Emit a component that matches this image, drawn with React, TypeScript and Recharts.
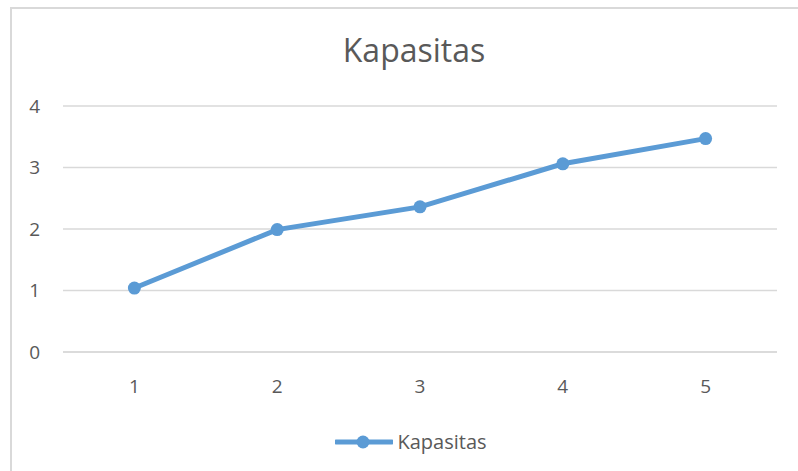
import React from "react";
import { LineChart, Line, XAxis, YAxis, CartesianGrid, Legend } from "recharts";

const categories = ["1", "2", "3", "4", "5"];
const kapasitas = [1.04, 1.99, 2.36, 3.06, 3.47];
const yTicks = [0, 1, 2, 3, 4];

const data = categories.map((c, i) => ({ category: c, Kapasitas: kapasitas[i] }));

const BLUE = "#5B9BD5";
const TEXT = "#595959";
const GRID = "#D9D9D9";
const FONT = "'Open Sans', 'Liberation Sans', sans-serif";

const LegendContent = (props: any) => {
  const items = props.payload || [];
  return (
    <div style={{ display: "flex", justifyContent: "center", alignItems: "center", paddingLeft: 24 }}>
      {items.map((it: any) => (
        <div key={it.value} style={{ display: "flex", alignItems: "center" }}>
          <svg width={58} height={14}>
            <line x1={1} y1={7} x2={57} y2={7} stroke={BLUE} strokeWidth={5} strokeLinecap="round" />
            <circle cx={28} cy={7} r={6.5} fill={BLUE} />
          </svg>
          <span style={{ marginLeft: 4, fontSize: 20, color: TEXT, fontFamily: FONT }}>{it.value}</span>
        </div>
      ))}
    </div>
  );
};

export default function App() {
  return (
    <div style={{ position: "absolute", left: 0, top: 0, width: 798, height: 471, overflow: "hidden", background: "#fff", fontFamily: FONT }}>
      <div style={{ position: "absolute", left: 10, top: 7, width: 820, height: 500, border: `2px solid ${GRID}` }} />
      <div style={{ position: "absolute", left: 0, top: 28, width: 828, textAlign: "center", fontSize: 32, color: TEXT, lineHeight: "normal" }}>
        Kapasitas
      </div>
      <div style={{ position: "absolute", left: 0, top: 0 }}>
        <LineChart width={798} height={471} data={data} margin={{ top: 106, right: 21, bottom: 89, left: 0 }}>
          <CartesianGrid horizontal vertical={false} stroke={GRID} strokeWidth={1.5} />
          <XAxis
            dataKey="category"
            height={30}
            padding={{ left: 71.4, right: 71.4 }}
            axisLine={{ stroke: GRID, strokeWidth: 1.5 }}
            tickLine={false}
            tickSize={0}
            tickMargin={28}
            tick={{ fill: TEXT, fontSize: 19, fontFamily: FONT }}
          />
          <YAxis
            width={63}
            domain={[0, 4]}
            ticks={yTicks}
            axisLine={false}
            tickLine={false}
            tickSize={0}
            tickMargin={23}
            tick={{ fill: TEXT, fontSize: 19, fontFamily: FONT }}
          />
          <Legend
            layout="horizontal"
            verticalAlign="middle"
            align="center"
            wrapperStyle={{ top: 428, left: 0, width: 798 }}
            content={LegendContent}
          />
          <Line
            type="linear"
            dataKey="Kapasitas"
            stroke={BLUE}
            strokeWidth={5}
            dot={{ r: 6.5, fill: BLUE, stroke: "none" }}
            activeDot={false}
            isAnimationActive={false}
          />
        </LineChart>
      </div>
    </div>
  );
}
